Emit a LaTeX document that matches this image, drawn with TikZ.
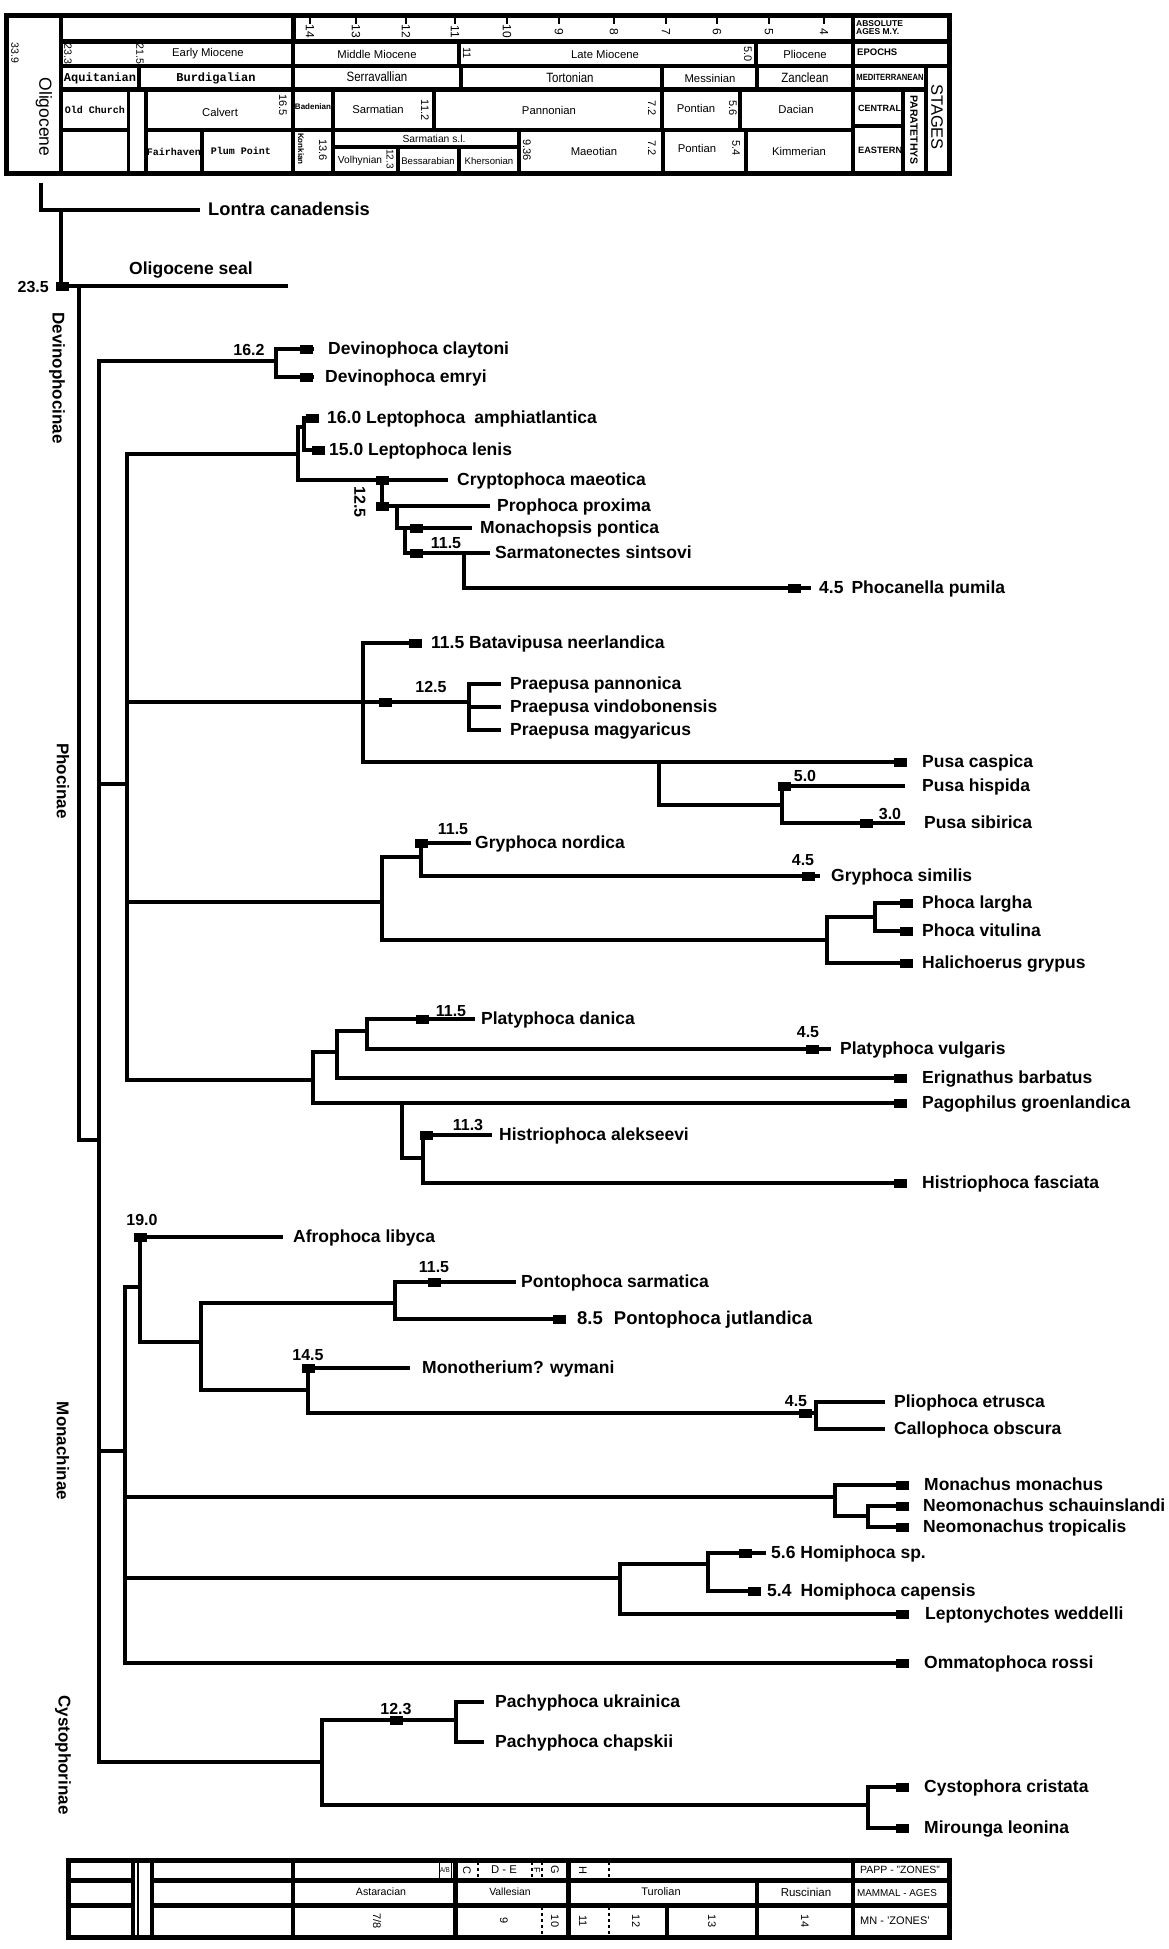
\documentclass[tikz,border=0pt]{standalone}
\usepackage{fontspec}
\setmainfont{Liberation Sans}
\newfontfamily\narrowf{Liberation Sans}[FakeStretch=0.85]
\newfontfamily\monof{Liberation Mono}
\begin{document}
\begin{tikzpicture}[x=1pt,y=-1pt,
  br/.style={line width=3.6pt, line join=miter},
  tb/.style={line width=3.5pt},
  tbt/.style={line width=5pt},
  tk/.style={line width=2.2pt},
  dsh/.style={line width=1.2pt, dash pattern=on 3pt off 3pt},
  mk/.style={rectangle, fill=black, draw=none, minimum width=13pt, minimum height=9pt, inner sep=0pt},
  lab/.style={anchor=west, inner sep=0pt, text height=12pt, text depth=1pt, font=\fontsize{17.5}{20}\selectfont\bfseries},
  num/.style={inner sep=0pt, font=\fontsize{16}{18}\selectfont\bfseries},
  grp/.style={rotate=-90, inner sep=0pt, font=\fontsize{17}{19}\selectfont\bfseries},
  tt/.style={inner sep=0pt, font=\fontsize{11.3}{12}\selectfont},
  ttb/.style={inner sep=0pt, font=\narrowf\fontsize{13.5}{14}\selectfont},
  tm/.style={inner sep=0pt, font=\monof\fontsize{12}{13}\selectfont\bfseries},
  tms/.style={inner sep=0pt, font=\monof\fontsize{10}{11}\selectfont\bfseries},
  tr/.style={rotate=-90, inner sep=0pt, font=\fontsize{11}{11}\selectfont},
  hd/.style={inner sep=0pt, font=\fontsize{9}{10}\selectfont\bfseries},
]
\useasboundingbox (0,0) rectangle (1168,1949);

% ================= TOP TABLE =================
\draw[tbt] (6,15) rectangle (949,173);
\draw[tb] (61,15) -- (61,173);
\draw[tbt] (61,41) -- (949,41);
\draw[tb] (61,66) -- (949,66);
\draw[tbt] (61,89) -- (926,89);
\draw[tb] (61,130) -- (128,130);
\draw[tb] (146,130) -- (853,130);
\draw[tb] (853,126) -- (903,126);
% row 1
\draw[tbt] (293,15) -- (293,41);
\draw[tb] (853,15) -- (853,173);
% row 2
\draw[tb] (293,41) -- (293,66);
\draw[tb] (459,41) -- (459,66);
\draw[tb] (756,41) -- (756,66);
% row 3
\draw[tb] (139,66) -- (139,89);
\draw[tb] (293,66) -- (293,89);
\draw[tb] (461,66) -- (461,89);
\draw[tb] (662,66) -- (662,89);
\draw[tb] (757,66) -- (757,89);
\draw[tb] (926,66) -- (926,173);
% row 4
\draw[tb] (128.5,89) -- (128.5,173);
\draw[tb] (146,89) -- (146,173);
\draw[tb] (293,89) -- (293,173);
\draw[tb] (333,89) -- (333,173);
\draw[tb] (434,89) -- (434,130);
\draw[tb] (662,89) -- (662,130);
\draw[tb] (740,89) -- (740,130);
\draw[tb] (903,89) -- (903,173);
% row 5
\draw[tb] (202,130) -- (202,173);
\draw[tb] (333,147) -- (519,147);
\draw[tb] (519,130) -- (519,173);
\draw[tb] (398,147) -- (398,173);
\draw[tb] (459,147) -- (459,173);
\draw[tb] (663,130) -- (663,173);
\draw[tb] (746,130) -- (746,173);

% ticks
\foreach \x/\a in {310/14,356/13,406/12,455/11,507/10,559/9,614/8,666/7,717/6,769/5,824/4}{
  \draw[tk] (\x,16) -- (\x,24);
  \node[tr, font=\fontsize{12}{12}\selectfont] (tick\a) at (\x,31.5) {\a};
}
\node[tr, font=\fontsize{10.5}{11}\selectfont] (a339) at (15,53) {33.9};
\node[rotate=-90, inner sep=0pt, font=\fontsize{17.5}{18}\selectfont] (olig) at (44,117) {Oligocene};
\node[hd, anchor=north west, align=left, font=\fontsize{8.5}{8}\selectfont\bfseries] (absag) at (856,20) {ABSOLUTE\\AGES M.Y.};
% row 2
\node[tr, font=\fontsize{10.5}{11}\selectfont] (a233) at (68,54) {23.3};
\node[tr, font=\fontsize{10.5}{11}\selectfont] (a215) at (140,54) {21.5};
\node[tt] (emio) at (208,54) {Early Miocene};
\node[tt] (mmio) at (377,54) {Middle Miocene};
\node[tr] (a11) at (467,53) {11};
\node[tt] (lmio) at (605,54) {Late Miocene};
\node[tr] (a50) at (748,54) {5.0};
\node[tt] (plio) at (805,54) {Pliocene};
\node[hd, anchor=west, font=\fontsize{9.5}{10}\selectfont\bfseries] (epo) at (857,52) {EPOCHS};
% row 3
\node[tm] (aqu) at (100,78) {Aquitanian};
\node[tm] (bur) at (216,78) {Burdigalian};
\node[ttb] (ser) at (377,77) {Serravallian};
\node[ttb] (tor) at (570,78) {Tortonian};
\node[tt] (mes) at (710,78) {Messinian};
\node[ttb] (zan) at (805,78) {Zanclean};
\node[inner sep=0pt, font=\narrowf\fontsize{9}{9}\selectfont\bfseries] (medi) at (890,77) {MEDITERRANEAN};
% row 4
\node[tms] (oldc) at (95,110) {Old Church};
\node[tt] (calv) at (220,112) {Calvert};
\node[tr] (a165) at (283,105) {16.5};
\node[inner sep=0pt, font=\fontsize{8}{9}\selectfont\bfseries] (bade) at (313,107) {Badenian};
\node[tt] (sarm) at (378,109) {Sarmatian};
\node[tr] (a112) at (425,110) {11.2};
\node[tt] (pann) at (549,110) {Pannonian};
\node[tr] (a72a) at (652,108) {7.2};
\node[tt] (pon1) at (696,108) {Pontian};
\node[tr] (a56) at (733,108) {5.6};
\node[tt] (daci) at (796,109) {Dacian};
\node[hd, anchor=west, font=\fontsize{9}{10}\selectfont\bfseries] (cent) at (858,108) {CENTRAL};
\node[rotate=-90, inner sep=0pt, font=\fontsize{10.5}{11}\selectfont\bfseries] (para) at (914,130) {PARATETHYS};
\node[rotate=-90, inner sep=0pt, font=\fontsize{16.5}{17}\selectfont] (stag) at (937,117) {STAGES};
% row 5
\node[tms] (fair) at (174,152) {Fairhaven};
\node[tms] (plum) at (241,151) {Plum Point};
\node[rotate=-90, inner sep=0pt, font=\fontsize{8}{9}\selectfont\bfseries] (konk) at (301,149) {Konkian};
\node[tr] (a136) at (323,150) {13.6};
\node[tt, font=\fontsize{10.3}{11}\selectfont] (sarsl) at (434,139) {Sarmatian s.l.};
\node[tt, font=\fontsize{10.2}{11}\selectfont] (volh) at (360,161) {Volhynian};
\node[tr, font=\fontsize{10}{11}\selectfont] (a123) at (390,159) {12.3};
\node[tt, font=\fontsize{9.6}{11}\selectfont] (bess) at (428,161) {Bessarabian};
\node[tt, font=\fontsize{9.6}{11}\selectfont] (kher) at (489,161) {Khersonian};
\node[tr] (a936) at (527,150) {9.36};
\node[tt] (maeo) at (594,151) {Maeotian};
\node[tr] (a72b) at (652,148) {7.2};
\node[tt] (pon2) at (697,148) {Pontian};
\node[tr] (a54) at (736,148) {5.4};
\node[tt] (kimm) at (799,151) {Kimmerian};
\node[hd, anchor=west, font=\fontsize{9.2}{10}\selectfont\bfseries] (east) at (858,150) {EASTERN};

% ================= BOTTOM TABLE =================
\draw[tbt] (68,1860) rectangle (949,1937);
\draw[tbt] (68,1880) -- (133,1880);
\draw[tbt] (152,1880) -- (949,1880);
\draw[tbt] (68,1905) -- (133,1905);
\draw[tbt] (152,1905) -- (949,1905);
\draw[tb] (133,1860) -- (133,1937);
\draw[line width=1.5pt] (138,1860) -- (138,1937);
\draw[tb] (152,1860) -- (152,1937);
\draw[tb] (293,1860) -- (293,1937);
\draw[tbt] (455,1860) -- (455,1937);
\draw[tbt] (568,1860) -- (568,1937);
\draw[tb] (853,1860) -- (853,1937);
\draw[tb] (757,1880) -- (757,1937);
\draw[tb] (667,1905) -- (667,1937);
\draw[line width=1pt] (439,1861) rectangle (451,1879);
\draw[dsh] (478,1862) -- (478,1879);
\draw[dsh] (532,1862) -- (532,1879);
\draw[dsh] (542,1862) -- (542,1879);
\draw[dsh] (609,1862) -- (609,1879);
\draw[dsh] (542,1907) -- (542,1935);
\draw[dsh] (609,1907) -- (609,1935);
\node[inner sep=0pt, font=\narrowf\fontsize{7}{7}\selectfont] (zab) at (445,1870) {A/B};
\node[tr] (zc) at (467,1870) {C};
\node[tt] (zde) at (504,1870) {D - E};
\node[tr, font=\fontsize{9}{9}\selectfont] (zf) at (537,1870) {F};
\node[tr] (zg) at (555,1870) {G};
\node[tr] (zh) at (583,1870) {H};
\node[tt, font=\fontsize{10.5}{11}\selectfont] (papp) at (900,1870) {PAPP - "ZONES"};
\node[tt, font=\fontsize{10.6}{11}\selectfont] (asta) at (381,1892) {Astaracian};
\node[tt, font=\fontsize{10.4}{11}\selectfont] (vall) at (510,1892) {Vallesian};
\node[tt, font=\fontsize{11}{11}\selectfont] (turo) at (661,1892) {Turolian};
\node[tt, font=\fontsize{11.5}{12}\selectfont] (rusc) at (806,1892) {Ruscinian};
\node[tt, font=\fontsize{9.9}{10}\selectfont] (mamm) at (897,1893) {MAMMAL - AGES};
\node[tr] (mn78) at (377,1921) {7/8};
\node[tr] (mn9) at (504,1921) {9};
\node[tr] (mn10) at (555,1921) {10};
\node[tr] (mn11) at (583,1921) {11};
\node[tr] (mn12) at (636,1921) {12};
\node[tr] (mn13) at (712,1921) {13};
\node[tr] (mn14) at (805,1921) {14};
\node[tt, font=\fontsize{11}{11}\selectfont] (mnz) at (895,1921) {MN - 'ZONES'};

% ================= TREE =================
\coordinate (r0) at (41,183);
\coordinate (tLon) at (200,210);
\coordinate (n1) at (61,210);
\coordinate (tOli) at (288,286);
\coordinate (n2) at (79,286);
\coordinate (n3) at (99,1140);
% Devinophocinae
\coordinate (nD) at (276,361);
\coordinate (tDc) at (314,349);
\coordinate (tDe) at (314,377);
% Phocinae
\coordinate (nP) at (127,784);
\coordinate (nL) at (298,454);
\coordinate (nL1) at (304,427);
\coordinate (tLa) at (319,418);
\coordinate (tLl) at (325,450);
\coordinate (nCr) at (382,480);
\coordinate (tCr) at (448,480);
\coordinate (nPr) at (397,506);
\coordinate (tPr) at (490,506);
\coordinate (nMo) at (405,528);
\coordinate (tMo) at (472,528);
\coordinate (nSa) at (464,553);
\coordinate (tSa) at (490,553);
\coordinate (tPh) at (811,588);
\coordinate (nB) at (363,702);
\coordinate (tBat) at (421,643);
\coordinate (nPp) at (469,702);
\coordinate (tPan) at (501,684);
\coordinate (tVin) at (501,707);
\coordinate (tMag) at (501,730);
\coordinate (tCas) at (905,762);
\coordinate (nPu) at (659,762);
\coordinate (nPh) at (782,805);
\coordinate (tHis) at (905,786);
\coordinate (tSib) at (905,823);
\coordinate (nG) at (382,902);
\coordinate (nGn) at (421,857);
\coordinate (tGno) at (471,843);
\coordinate (tGsi) at (820,876);
\coordinate (nPh2) at (827,940);
\coordinate (nPv) at (875,917);
\coordinate (tLar) at (913,903);
\coordinate (tVit) at (913,931);
\coordinate (tHal) at (913,963);
\coordinate (nPl) at (313,1080);
\coordinate (nE) at (337,1052);
\coordinate (nPd) at (367,1031);
\coordinate (tDan) at (475,1019);
\coordinate (tVul) at (831,1049);
\coordinate (tEri) at (905,1078);
\coordinate (tPag) at (905,1103);
\coordinate (nPg) at (402,1103);
\coordinate (nHi) at (423,1158);
\coordinate (tAle) at (492,1135);
\coordinate (tFas) at (905,1183);
% Monachinae
\coordinate (nM) at (125,1451);
\coordinate (nA) at (140,1287);
\coordinate (tAfr) at (283,1237);
\coordinate (nA2) at (201,1342);
\coordinate (nPo) at (395,1303);
\coordinate (tPsa) at (516,1282);
\coordinate (tPju) at (566,1319);
\coordinate (nMt) at (308,1390);
\coordinate (tMon) at (410,1368);
\coordinate (nPc) at (816,1413);
\coordinate (tPli) at (885,1402);
\coordinate (tCal) at (885,1429);
\coordinate (nMm) at (835,1497);
\coordinate (tMmo) at (905,1485);
\coordinate (nNm) at (868,1516);
\coordinate (tNsc) at (905,1506);
\coordinate (tNtr) at (905,1527);
\coordinate (nHo) at (620,1578);
\coordinate (nHs) at (708,1564);
\coordinate (tHsp) at (766,1553);
\coordinate (tHca) at (760,1591);
\coordinate (tLep) at (905,1614);
\coordinate (tOmm) at (905,1663);
% Cystophorinae
\coordinate (nC) at (322,1762);
\coordinate (nPa) at (456,1720);
\coordinate (tUkr) at (484,1702);
\coordinate (tCha) at (484,1742);
\coordinate (nCm) at (868,1805);
\coordinate (tCri) at (905,1787);
\coordinate (tMir) at (905,1828);

% branches
\draw[br] (r0) |- (tLon);
\draw[br] (n1) |- (tOli);
\draw[br] (n2) |- (n3);
\draw[br] (n3) |- (nD);
\draw[br] (n3) |- (nP);
\draw[br] (n3) |- (nM);
\draw[br] (n3) |- (nC);
\draw[br] (nD) |- (tDc);
\draw[br] (nD) |- (tDe);
\draw[br] (nP) |- (nL);
\draw[br] (nP) |- (nPp);
\draw[br] (nP) |- (nG);
\draw[br] (nP) |- (nPl);
\draw[br] (nL) |- (nL1);
\draw[br] (nL) |- (tCr);
\draw[br] (nL1) |- (tLa);
\draw[br] (nL1) |- (tLl);
\draw[br] (nCr) |- (tPr);
\draw[br] (nPr) |- (tMo);
\draw[br] (nMo) |- (tSa);
\draw[br] (nSa) |- (tPh);
\draw[br] (nB) |- (tBat);
\draw[br] (nB) |- (tCas);
\draw[br] (nPp) |- (tPan);
\draw[br] (nPp) |- (tVin);
\draw[br] (nPp) |- (tMag);
\draw[br] (nPu) |- (nPh);
\draw[br] (nPh) |- (tHis);
\draw[br] (nPh) |- (tSib);
\draw[br] (nG) |- (nGn);
\draw[br] (nG) |- (nPh2);
\draw[br] (nGn) |- (tGno);
\draw[br] (nGn) |- (tGsi);
\draw[br] (nPh2) |- (nPv);
\draw[br] (nPh2) |- (tHal);
\draw[br] (nPv) |- (tLar);
\draw[br] (nPv) |- (tVit);
\draw[br] (nPl) |- (nE);
\draw[br] (nPl) |- (tPag);
\draw[br] (nE) |- (nPd);
\draw[br] (nE) |- (tEri);
\draw[br] (nPd) |- (tDan);
\draw[br] (nPd) |- (tVul);
\draw[br] (nPg) |- (nHi);
\draw[br] (nHi) |- (tAle);
\draw[br] (nHi) |- (tFas);
\draw[br] (nM) |- (nA);
\draw[br] (nM) |- (nMm);
\draw[br] (nM) |- (nHo);
\draw[br] (nM) |- (tOmm);
\draw[br] (nA) |- (tAfr);
\draw[br] (nA) |- (nA2);
\draw[br] (nA2) |- (nPo);
\draw[br] (nA2) |- (nMt);
\draw[br] (nPo) |- (tPsa);
\draw[br] (nPo) |- (tPju);
\draw[br] (nMt) |- (tMon);
\draw[br] (nMt) |- (nPc);
\draw[br] (nPc) |- (tPli);
\draw[br] (nPc) |- (tCal);
\draw[br] (nMm) |- (tMmo);
\draw[br] (nMm) |- (nNm);
\draw[br] (nNm) |- (tNsc);
\draw[br] (nNm) |- (tNtr);
\draw[br] (nHo) |- (nHs);
\draw[br] (nHo) |- (tLep);
\draw[br] (nHs) |- (tHsp);
\draw[br] (nHs) |- (tHca);
\draw[br] (nC) |- (nPa);
\draw[br] (nC) |- (nCm);
\draw[br] (nPa) |- (tUkr);
\draw[br] (nPa) |- (tCha);
\draw[br] (nCm) |- (tCri);
\draw[br] (nCm) |- (tMir);

% markers
\foreach \n/\x/\y in {m1/62/286, m2/306/349, m3/306/377, m4/312/418, m5/318/450,
  m6/382/480, m7/382/506, m8/416/528, m9/416/553, m10/794/588, m11/415/643,
  m12/385/702, m13/900/762, m14/784/786, m15/866/823, m16/421/843, m17/808/876,
  m18/906/903, m19/906/931, m20/906/963, m21/422/1019, m22/812/1049, m23/900/1078,
  m24/900/1103, m25/426/1135, m26/900/1183, m27/140/1237, m28/434/1282, m29/559/1319,
  m30/308/1368, m31/805/1413, m32/902/1485, m33/902/1506, m34/902/1527, m35/745/1553,
  m36/754/1591, m37/902/1614, m38/902/1663, m39/396/1720, m40/902/1787, m41/902/1828}
  {\node[mk] (\n) at (\x,\y) {};}

% group labels
\node[grp] (gDev) at (57,378) {Devinophocinae};
\node[grp] (gPho) at (63,781) {Phocinae};
\node[grp] (gMon) at (63,1451) {Monachinae};
\node[grp] (gCys) at (63,1755) {Cystophorinae};

% numbers
\node[num, anchor=east] (v235) at (49,287) {23.5};
\node[num] (v162) at (249,350) {16.2};
\node[num, rotate=-90] (v125a) at (360,502) {12.5};
\node[num] (v115a) at (446,543) {11.5};
\node[num] (v125b) at (431,687) {12.5};
\node[num] (v50) at (805,776) {5.0};
\node[num] (v30) at (890,814) {3.0};
\node[num] (v115b) at (453,829) {11.5};
\node[num] (v45a) at (803,860) {4.5};
\node[num] (v115c) at (451,1011) {11.5};
\node[num] (v45b) at (808,1032) {4.5};
\node[num] (v113) at (468,1125) {11.3};
\node[num] (v190) at (142,1220) {19.0};
\node[num] (v115d) at (434,1267) {11.5};
\node[num] (v145) at (308,1355) {14.5};
\node[num] (v45c) at (796,1401) {4.5};
\node[num] (v123) at (396,1709) {12.3};

% taxon labels
\node[num, font=\fontsize{17.5}{20}\selectfont\bfseries] (lOli) at (191,270) {Oligocene seal};
\node[lab, font=\fontsize{18.3}{20}\selectfont\bfseries] (lLon) at (208,210) {Lontra canadensis};
\node[lab] (lDc) at (328,349) {Devinophoca claytoni};
\node[lab] (lDe) at (325,377) {Devinophoca emryi};
\node[lab] (lLa) at (327,418) {16.0 Leptophoca\hspace{9pt}amphiatlantica};
\node[lab] (lLl) at (329,450) {15.0 Leptophoca lenis};
\node[lab] (lCr) at (457,480) {Cryptophoca maeotica};
\node[lab] (lPr) at (497,506) {Prophoca proxima};
\node[lab] (lMo) at (480,528) {Monachopsis pontica};
\node[lab] (lSa) at (495,553) {Sarmatonectes sintsovi};
\node[lab] (lPh) at (819,588) {4.5\hspace{8pt}Phocanella pumila};
\node[lab] (lBat) at (431,643) {11.5 Batavipusa neerlandica};
\node[lab] (lPan) at (510,684) {Praepusa pannonica};
\node[lab] (lVin) at (510,707) {Praepusa vindobonensis};
\node[lab] (lMag) at (510,730) {Praepusa magyaricus};
\node[lab] (lCas) at (922,762) {Pusa caspica};
\node[lab] (lHis) at (922,786) {Pusa hispida};
\node[lab] (lSib) at (924,823) {Pusa sibirica};
\node[lab] (lGno) at (475,843) {Gryphoca nordica};
\node[lab] (lGsi) at (831,876) {Gryphoca similis};
\node[lab] (lLar) at (922,903) {Phoca largha};
\node[lab] (lVit) at (922,931) {Phoca vitulina};
\node[lab] (lHal) at (922,963) {Halichoerus grypus};
\node[lab] (lDan) at (481,1019) {Platyphoca danica};
\node[lab] (lVul) at (840,1049) {Platyphoca vulgaris};
\node[lab] (lEri) at (922,1078) {Erignathus barbatus};
\node[lab] (lPag) at (922,1103) {Pagophilus groenlandica};
\node[lab] (lAle) at (499,1135) {Histriophoca alekseevi};
\node[lab] (lFas) at (922,1183) {Histriophoca fasciata};
\node[lab] (lAfr) at (293,1237) {Afrophoca libyca};
\node[lab] (lPsa) at (521,1282) {Pontophoca sarmatica};
\node[lab, font=\fontsize{18.5}{20}\selectfont\bfseries] (lPju) at (577,1319) {8.5\hspace{11pt}Pontophoca jutlandica};
\node[lab] (lMon) at (422,1368) {Monotherium? wymani};
\node[lab] (lPli) at (894,1402) {Pliophoca etrusca};
\node[lab] (lCal) at (894,1429) {Callophoca obscura};
\node[lab] (lMmo) at (924,1485) {Monachus monachus};
\node[lab] (lNsc) at (923,1506) {Neomonachus schauinslandi};
\node[lab] (lNtr) at (923,1527) {Neomonachus tropicalis};
\node[lab] (lHsp) at (771,1553) {5.6 Homiphoca sp.};
\node[lab] (lHca) at (767,1591) {5.4\hspace{9pt}Homiphoca capensis};
\node[lab] (lLep) at (925,1614) {Leptonychotes weddelli};
\node[lab] (lOmm) at (924,1663) {Ommatophoca rossi};
\node[lab] (lUkr) at (495,1702) {Pachyphoca ukrainica};
\node[lab] (lCha) at (495,1742) {Pachyphoca chapskii};
\node[lab] (lCri) at (924,1787) {Cystophora cristata};
\node[lab] (lMir) at (924,1828) {Mirounga leonina};
\end{tikzpicture}
\end{document}
